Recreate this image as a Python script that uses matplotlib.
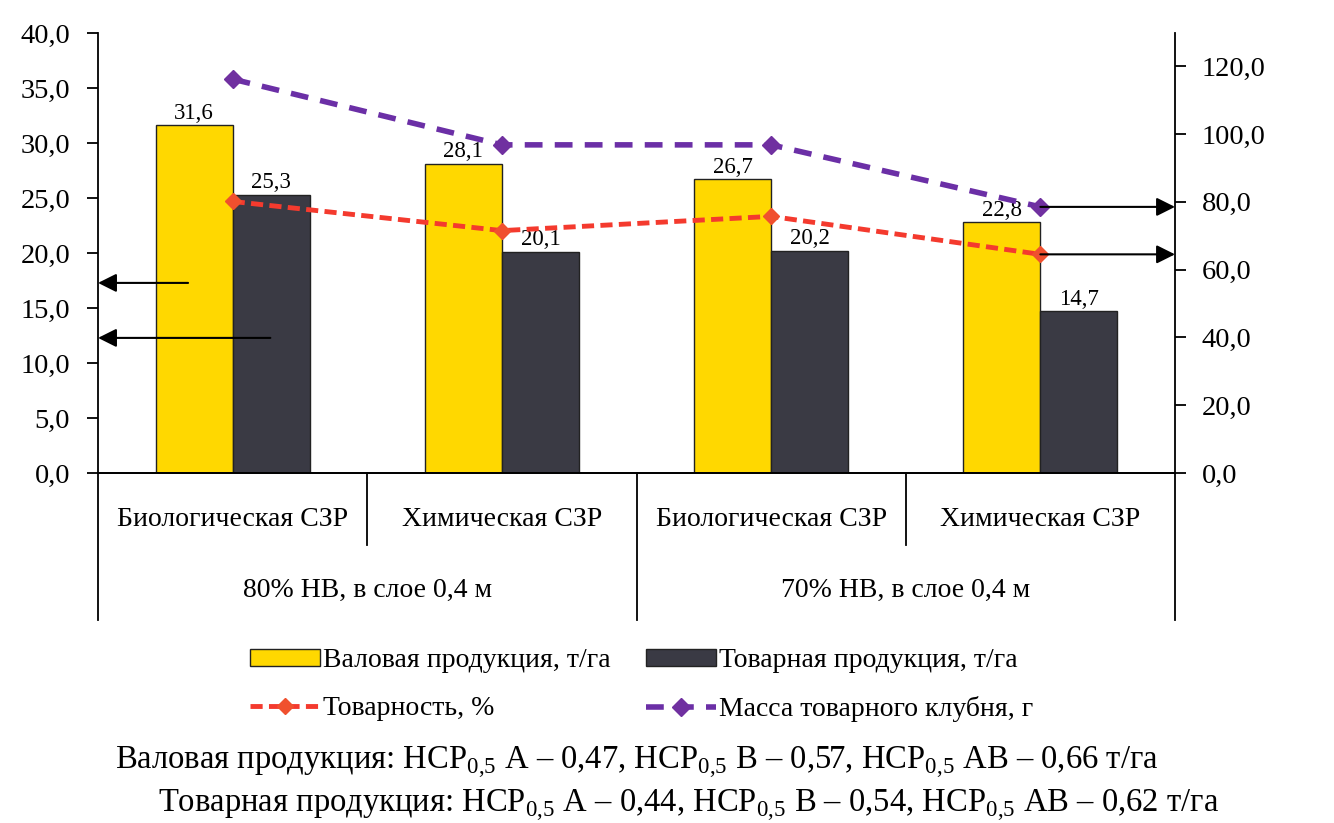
import numpy as np
import matplotlib
matplotlib.use('Agg')
import matplotlib.pyplot as plt

plt.rcParams['font.family'] = ['Liberation Serif', 'DejaVu Serif']
plt.rcParams['mathtext.fontset'] = 'custom'
plt.rcParams['mathtext.rm'] = 'Liberation Serif'

# data
categories = ['Биологическая СЗР', 'Химическая СЗР', 'Биологическая СЗР', 'Химическая СЗР']
groups = ['80% НВ, в слое 0,4 м', '70% НВ, в слое 0,4 м']
gross = [31.6, 28.1, 26.7, 22.8]        # Валовая продукция, т/га
market = [25.3, 20.1, 20.2, 14.7]       # Товарная продукция, т/га
marketability = [80.1, 71.5, 75.7, 64.5]  # Товарность, %
tuber_mass = [116.2, 96.8, 96.8, 78.5]  # Масса товарного клубня, г
left_ticks = [0, 5, 10, 15, 20, 25, 30, 35, 40]
right_ticks = [0, 20, 40, 60, 80, 100, 120]

yellow = '#FFD800'
dark = '#3A3A44'
red = '#F43A2E'
purple = '#6B2FA6'

fig = plt.figure(figsize=(13.34, 8.23), dpi=100)
ax = fig.add_axes([0.0735, 0.4253, 0.8073, 0.5346])
ax2 = ax.twinx()

x = np.arange(len(categories))
w = 0.286
b1 = ax.bar(x - w / 2, gross, w, color=yellow, edgecolor='#222222', linewidth=1, label='Валовая продукция, т/га')
b2 = ax.bar(x + w / 2, market, w, color=dark, edgecolor='#222222', linewidth=1, label='Товарная продукция, т/га')

for xi, v in zip(x - w / 2, gross):
    ax.text(xi, v + 0.15, f'{v:.1f}'.replace('.', ','), ha='center', va='bottom', fontsize=16.5)
for xi, v in zip(x + w / 2, market):
    ax.text(xi, v + 0.15, f'{v:.1f}'.replace('.', ','), ha='center', va='bottom', fontsize=16.5)

l1, = ax2.plot(x, marketability, color=red, lw=3.5, ls=(0, (2.5, 1.3)), marker='D', ms=8.5,
               mfc='#F0502E', mec='#F0502E', label='Товарность, %')
l2, = ax2.plot(x, tuber_mass, color=purple, lw=4, ls=(0, (3.2, 2.2)), marker='D', ms=9.5,
               mfc='#7030A0', mec='#7030A0', label='Масса товарного клубня, г')

ax.set_xlim(-0.5, 3.5)
ax.set_ylim(0, 40)
ax2.set_ylim(0, 129.8)
ax.set_yticks(left_ticks)
ax.set_yticklabels([f'{t:.1f}'.replace('.', ',') for t in left_ticks], fontsize=20.5)
ax2.set_yticks(right_ticks)
ax2.set_yticklabels([f'{t:.1f}'.replace('.', ',') for t in right_ticks], fontsize=20.5)
ax.tick_params(axis='y', direction='out', length=8, width=1.3, pad=12)
ax2.tick_params(axis='y', direction='out', length=8, width=1.3, pad=11)
ax.set_xticks([])
for a in (ax, ax2):
    a.spines['top'].set_visible(False)
    for s in ('left', 'right', 'bottom'):
        a.spines[s].set_linewidth(1.3)
ax.spines['right'].set_visible(False)
ax2.spines['left'].set_visible(False)

# multi-level category axis
tr = ax.get_xaxis_transform()
for b in [0.5, 2.5]:
    ax.plot([b, b], [0, -0.164], color='black', lw=1.3, transform=tr, clip_on=False)
for b in [-0.5, 1.5, 3.5]:
    ax.plot([b, b], [0, -0.334], color='black', lw=1.3, transform=tr, clip_on=False)
for xi, c in zip(x, categories):
    ax.text(xi, -0.106, c, ha='center', va='center', fontsize=20, transform=tr)
for gi, g in enumerate(groups):
    ax.text(2 * gi + 0.5, -0.266, g, ha='center', va='center', fontsize=20, transform=tr)

# arrows pointing to axes
ap = dict(arrowstyle='-|>', mutation_scale=28, color='black', lw=1.5, shrinkA=0, shrinkB=0)
ax.annotate('', xy=(0, 0.432), xytext=(0.0836, 0.432), xycoords='axes fraction', arrowprops=ap)
ax.annotate('', xy=(0, 0.307), xytext=(0.160, 0.307), xycoords='axes fraction', arrowprops=ap)
ax2.annotate('', xy=(3.5, tuber_mass[-1]), xytext=(3, tuber_mass[-1]), arrowprops=ap, annotation_clip=False)
ax2.annotate('', xy=(3.5, marketability[-1]), xytext=(3, marketability[-1]), arrowprops=ap, annotation_clip=False)

fig.legend(handles=[b1, l1, b2, l2], ncol=2, loc='upper left', bbox_to_anchor=(0.169, 0.243),
           frameon=False, fontsize=20, handlelength=2.5, handleheight=0.55, labelspacing=0.82,
           columnspacing=1.3, handletextpad=0.1)

fig.text(0.0862, 0.073, 'Валовая продукция: НСР$_{0{,}5}$ А – 0,47, НСР$_{0{,}5}$ В – 0,57, НСР$_{0{,}5}$ АВ – 0,66 т/га',
         fontsize=23.5, va='center', ha='left')
fig.text(0.1184, 0.021, 'Товарная продукция: НСР$_{0{,}5}$ А – 0,44, НСР$_{0{,}5}$ В – 0,54, НСР$_{0{,}5}$ АВ – 0,62 т/га',
         fontsize=23.5, va='center', ha='left')

fig.savefig('out.png', dpi=100)
